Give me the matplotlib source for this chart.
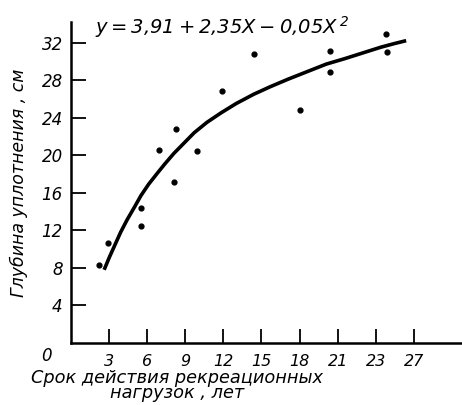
import matplotlib
matplotlib.use("Agg")
import matplotlib.pyplot as plt

# measured points (years, depth cm)
obs_x = [2.2, 2.9, 5.5, 5.5, 6.9, 8.1, 8.3, 9.9, 11.9, 14.4, 18.0, 20.4, 20.4, 24.8, 24.9]
obs_y = [8.3, 10.6, 14.4, 12.5, 20.6, 17.1, 22.8, 20.5, 26.8, 30.8, 24.8, 31.1, 28.9, 32.9, 31.0]

# fitted curve as drawn in the picture
curve_x = [2.6, 3.0, 3.4, 3.9, 4.4, 5.0, 5.5, 6.1, 6.8, 7.4, 8.1, 8.9, 9.7, 10.7, 11.8,
           13.0, 14.4, 15.7, 17.1, 18.6, 20.1, 21.6, 23.0, 24.4, 25.5, 26.4]
curve_y = [7.8, 9.1, 10.3, 11.8, 13.1, 14.5, 15.7, 16.9, 18.1, 19.1, 20.2, 21.3, 22.4, 23.5, 24.5,
           25.5, 26.5, 27.3, 28.1, 28.9, 29.7, 30.3, 30.9, 31.5, 31.9, 32.2]

xtick_pos = [3, 6, 9, 12, 15, 18, 21, 24, 27]
xtick_labels = ["3", "6", "9", "12", "15", "18", "21", "23", "27"]
ytick_pos = [4, 8, 12, 16, 20, 24, 28, 32]

plt.rcParams["mathtext.fontset"] = "custom"
plt.rcParams["mathtext.rm"] = "DejaVu Sans:italic"
plt.rcParams["mathtext.it"] = "DejaVu Sans:italic"

font = {"family": "DejaVu Sans", "style": "italic"}

fig = plt.figure(figsize=(4.62, 4.05), dpi=100)
ax = fig.add_axes([0.154, 0.153, 0.846, 0.793])

ax.plot(curve_x, curve_y, color="black", lw=2.6, solid_capstyle="butt", solid_joinstyle="round")
ax.scatter(obs_x, obs_y, s=12, color="black", zorder=3)

ax.set_xlim(0, 30.8)
ax.set_ylim(0, 34.2)
ax.spines["top"].set_visible(False)
ax.spines["right"].set_visible(False)
ax.spines["left"].set_linewidth(1.8)
ax.spines["bottom"].set_linewidth(1.8)

ax.set_xticks(xtick_pos)
ax.set_xticklabels(xtick_labels, fontdict=dict(font, size=11.5))
ax.set_yticks(ytick_pos)
ax.set_yticklabels([str(v) for v in ytick_pos], fontdict=dict(font, size=12))
ax.tick_params(axis="x", direction="in", length=10, width=1.3, pad=8)
ax.tick_params(axis="y", direction="in", length=11, width=1.3, pad=6)

ax.text(-0.05, -0.04, "0", transform=ax.transAxes, ha="right", va="center",
        fontsize=12, **font)

ax.set_ylabel("Глубина уплотнения , см", fontsize=12.5, labelpad=10, **font)
ax.text(0.27, -0.08, "Срок действия рекреационных\nнагрузок , лет", transform=ax.transAxes,
        ha="center", va="top", fontsize=12.8, linespacing=0.8, **font)

ax.text(0.06, 0.985, r"$y = 3{,}91 + 2{,}35X - 0{,}05X^{\,2}$", transform=ax.transAxes,
        ha="left", va="center", fontsize=14)

fig.savefig("out.png", dpi=100)
